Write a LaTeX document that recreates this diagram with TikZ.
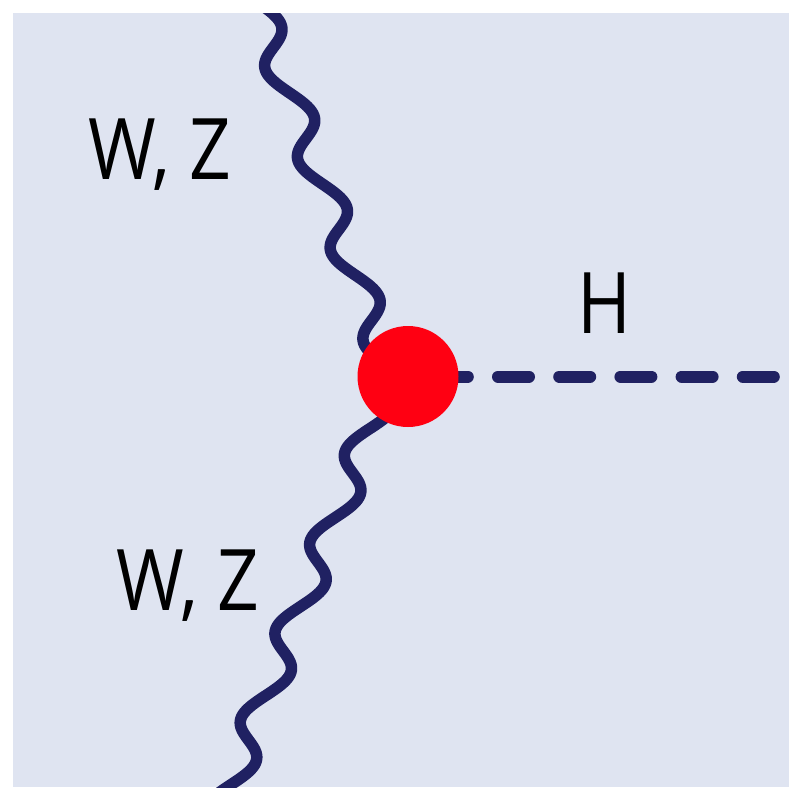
\documentclass[tikz,border=0pt]{standalone}
\usepackage{fontspec}
\setmainfont[FakeStretch=0.86]{Open Sans}
\definecolor{bgblue}{RGB}{223,228,241}
\definecolor{navy}{RGB}{32,33,98}
\definecolor{vred}{RGB}{255,0,18}
\pgfdeclarelayer{back}
\pgfsetlayers{back,main}
\begin{document}
\begin{tikzpicture}[x=1pt,y=-1pt,
  lbl/.style={font=\fontsize{85}{90}\selectfont, inner sep=0pt, anchor=base, text=black},
  wave/.style={draw=navy, line width=11.5pt, line cap=round, line join=round},
  hline/.style={draw=navy, line width=12pt, line cap=round, dash pattern=on 31pt off 30.2pt, dash phase=32.4pt},
  vertex/.style={circle, fill=vred, minimum size=101pt, inner sep=0pt}]
\useasboundingbox (0,0) rectangle (789,787);
\node[vertex] (v) at (408,376.5) {};
\coordinate (hend) at (774,376.5);
\begin{pgfonlayer}{back}
  \fill[white] (0,0) rectangle (789,787);
  \fill[bgblue] (13,13) rectangle (789,787);
  \begin{scope}
    \clip (13,13) rectangle (789,787);
    \draw[wave] plot[domain=5:362, samples=240, variable=\t] ({267+0.36*(\t-30)+16*sin(3.95604*(\t-2))}, \t);
    \draw[wave] plot[domain=398:795, samples=240, variable=\t] ({346-0.39*(\t-490)+16*sin(4.04494*(\t-473))}, \t);
  \end{scope}
  \draw[hline] (v.center) -- (hend);
\end{pgfonlayer}
\node[lbl] (wz1) at (159.5,179) {W, Z};
\node[lbl] (wz2) at (187.5,610) {W, Z};
\node[lbl] (h) at (604,333) {H};
\end{tikzpicture}
\end{document}
